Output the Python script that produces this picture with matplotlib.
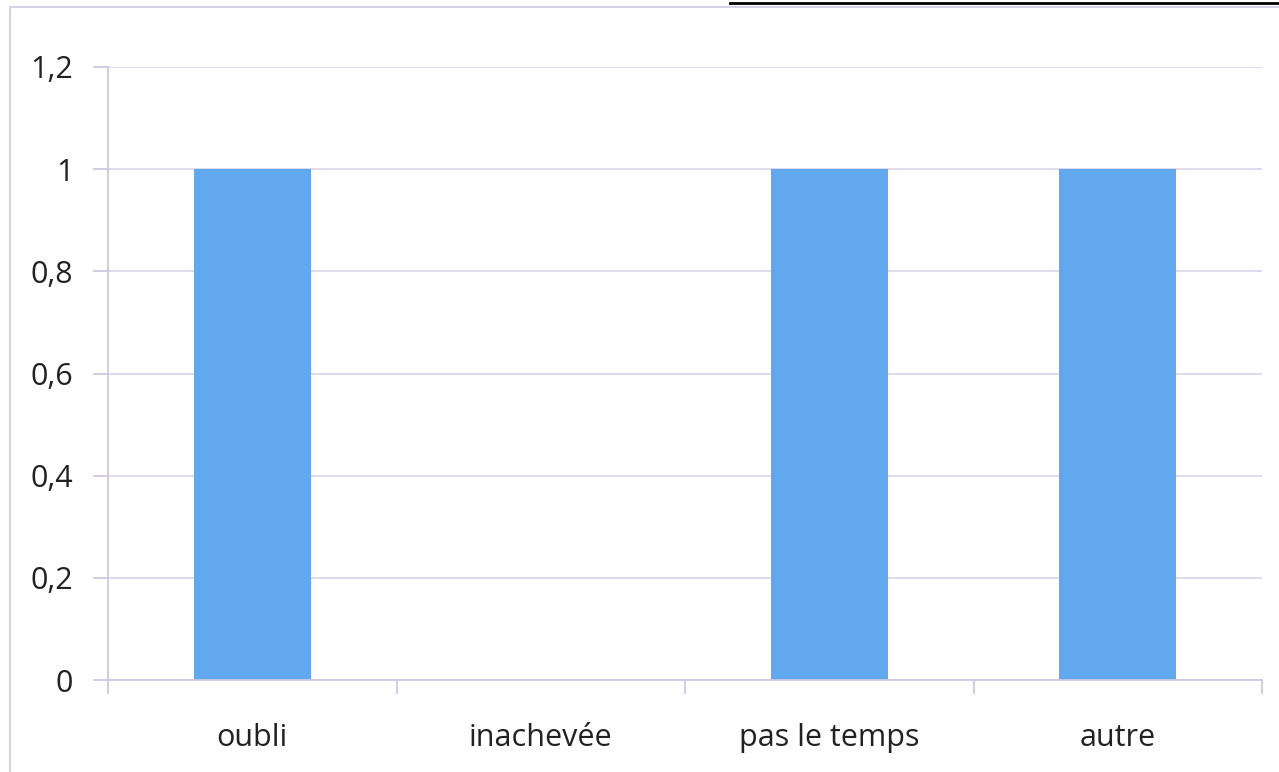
import numpy as np
import matplotlib.pyplot as plt
from matplotlib.patches import Rectangle
from matplotlib.lines import Line2D

categories = ["oubli", "inachevée", "pas le temps", "autre"]
values = [1, 0, 1, 1]
yticks = [0, 0.2, 0.4, 0.6, 0.8, 1.0, 1.2]
ylabels = ["0", "0,2", "0,4", "0,6", "0,8", "1", "1,2"]

W, H = 1279, 772
fig = plt.figure(figsize=(W / 100, H / 100), dpi=100, facecolor="white")
plt.rcParams['font.family'] = ['Open Sans', 'DejaVu Sans']

# chart border (cut off on right / bottom)
fig.patches.append(Rectangle((10 / W, -0.05), 1.1, (H - 7) / H + 0.05,
                             transform=fig.transFigure, fill=False,
                             edgecolor="#d8d0e4", lw=1.5))
# underline of cropped title above chart
fig.lines.append(Line2D([730 / W, 1.0], [1 - 3 / H, 1 - 3 / H],
                        transform=fig.transFigure, color="black", lw=2))

ax = fig.add_axes([108 / W, 1 - 680 / H, (1262 - 108) / W, (680 - 67) / H])
x = np.arange(len(categories))
ax.bar(x, values, width=0.405, color="#62a8ee", zorder=2)

ax.set_xlim(-0.5, len(categories) - 0.5)
ax.set_ylim(0, 1.2)
ax.set_yticks(yticks)
ax.set_yticklabels(ylabels, fontsize=22, color="#222222")
ax.yaxis.grid(True, color="#dcd8ec", lw=1.3, zorder=0)
ax.set_xticks(x)
ax.set_xticklabels(categories, fontsize=22, color="#222222")
ax.set_xticks(np.arange(len(categories) + 1) - 0.5, minor=True)
ax.tick_params(axis="x", which="major", length=0, pad=31)
ax.tick_params(axis="x", which="minor", length=10, color="#d0c8e0", width=1.3)
ax.tick_params(axis="y", length=11, color="#d0c8e0", width=1.3, pad=14)

for s in ["top", "right"]:
    ax.spines[s].set_visible(False)
ax.spines["left"].set_color("#d0c8e0")
ax.spines["bottom"].set_color("#d0c8e0")
ax.spines["left"].set_linewidth(1.3)
ax.spines["bottom"].set_linewidth(1.3)

fig.savefig("out.png", dpi=100)
